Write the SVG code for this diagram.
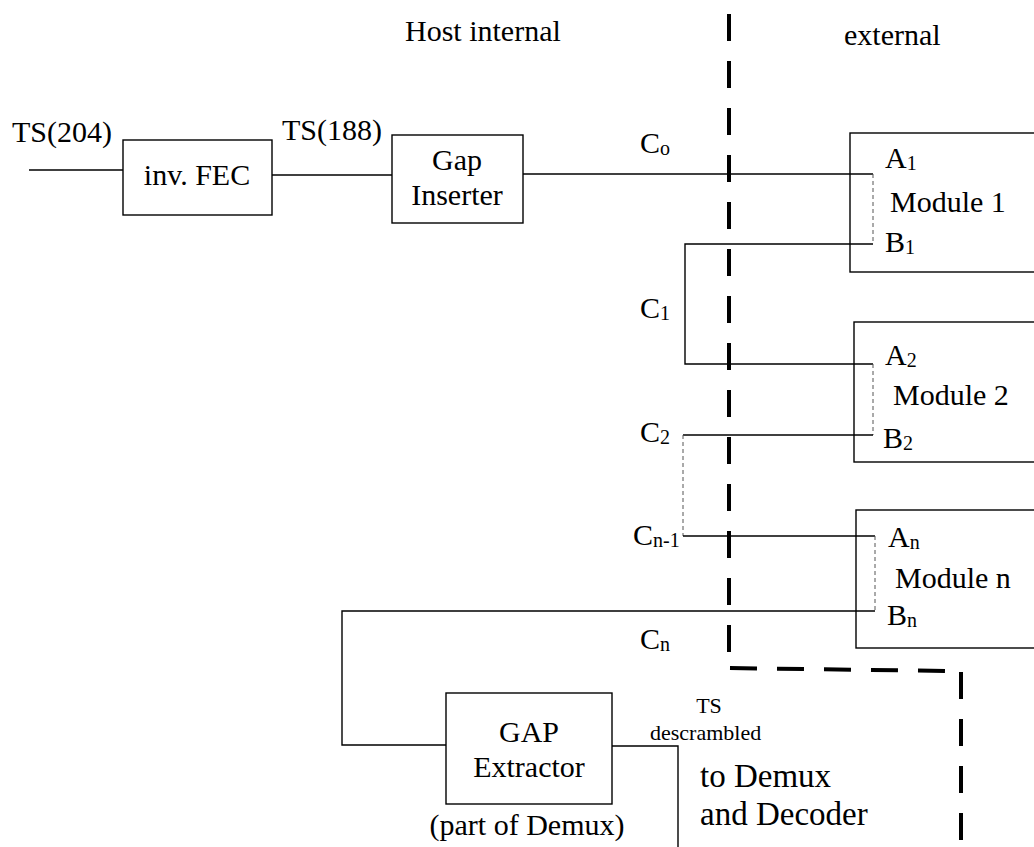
<svg xmlns="http://www.w3.org/2000/svg" width="1034" height="847" viewBox="0 0 1034 847">
<style>
text{font-family:"Liberation Serif","Times New Roman",serif;font-size:30px;fill:#000}
.sub{font-size:20px}
.box{fill:none;stroke:#000;stroke-width:1.4}
.ln{fill:none;stroke:#000;stroke-width:1.4}
.thin{fill:none;stroke:#555;stroke-width:1;stroke-dasharray:4 3}
.bd{fill:none;stroke:#000;stroke-width:4;stroke-dasharray:27 20}
.big{font-size:33px}
.sm{font-size:22px}
</style>
<rect width="1034" height="847" fill="#fff"/>
<g id="boundary">
<line class="bd" x1="729" y1="14" x2="729" y2="652"/>
<line class="bd" x1="730" y1="668" x2="945" y2="671"/>
<line class="bd" x1="961" y1="672" x2="961" y2="840"/>
</g>
<g id="region-labels">
<text x="405" y="41">Host internal</text>
<text x="844" y="45">external</text>
</g>
<g id="connectors">
<line class="ln" x1="29" y1="170" x2="123" y2="170"/>
<line class="ln" x1="272" y1="175" x2="392" y2="175"/>
<line class="ln" x1="523" y1="174" x2="873" y2="174"/>
<line class="thin" x1="873" y1="174" x2="873" y2="244"/>
<polyline class="ln" points="873,244 685,244 685,364 873,364"/>
<line class="thin" x1="873" y1="364" x2="873" y2="435"/>
<line class="ln" x1="873" y1="435" x2="683" y2="435"/>
<line class="thin" x1="683" y1="435" x2="683" y2="536"/>
<line class="ln" x1="683" y1="536" x2="875" y2="536"/>
<line class="thin" x1="875" y1="536" x2="875" y2="611"/>
<polyline class="ln" points="875,611 342,611 342,745 446,745"/>
<polyline class="ln" points="612,746 678,746 678,847"/>
<text x="12" y="142">TS(204)</text>
<text x="282" y="140">TS(188)</text>
<text x="640" y="153">C<tspan class="sub" dy="2">o</tspan></text>
<text x="640" y="318">C<tspan class="sub" dy="2">1</tspan></text>
<text x="640" y="442">C<tspan class="sub" dy="2">2</tspan></text>
<text x="633" y="545">C<tspan class="sub" dy="2">n-1</tspan></text>
<text x="640" y="649">C<tspan class="sub" dy="2">n</tspan></text>
<text class="sm" x="709" y="713" text-anchor="middle">TS</text>
<text class="sm" x="650" y="740">descrambled</text>
<text class="big" x="700" y="787">to Demux</text>
<text class="big" x="700" y="825">and Decoder</text>
</g>
<g id="inv-fec">
<rect class="box" x="123" y="140" width="149" height="75"/>
<text x="197" y="185" text-anchor="middle">inv. FEC</text>
</g>
<g id="gap-inserter">
<rect class="box" x="392" y="135" width="131" height="88"/>
<text x="457" y="170" text-anchor="middle">Gap</text>
<text x="457" y="205" text-anchor="middle">Inserter</text>
</g>
<g id="module-1">
<rect class="box" x="850" y="133" width="300" height="139"/>
<text x="885" y="168">A<tspan class="sub" dy="2">1</tspan></text>
<text x="890" y="212">Module 1</text>
<text x="885" y="252">B<tspan class="sub" dy="2">1</tspan></text>
</g>
<g id="module-2">
<rect class="box" x="854" y="322" width="300" height="140"/>
<text x="885" y="365">A<tspan class="sub" dy="2">2</tspan></text>
<text x="893" y="405">Module 2</text>
<text x="883" y="448">B<tspan class="sub" dy="2">2</tspan></text>
</g>
<g id="module-n">
<rect class="box" x="856" y="510" width="300" height="138"/>
<text x="888" y="547">A<tspan class="sub" dy="2">n</tspan></text>
<text x="895" y="588">Module n</text>
<text x="887" y="625">B<tspan class="sub" dy="2">n</tspan></text>
</g>
<g id="gap-extractor">
<rect class="box" x="446" y="693" width="166" height="111"/>
<text x="529" y="742" text-anchor="middle">GAP</text>
<text x="529" y="777" text-anchor="middle">Extractor</text>
<text x="527" y="835" text-anchor="middle">(part of Demux)</text>
</g>
</svg>
